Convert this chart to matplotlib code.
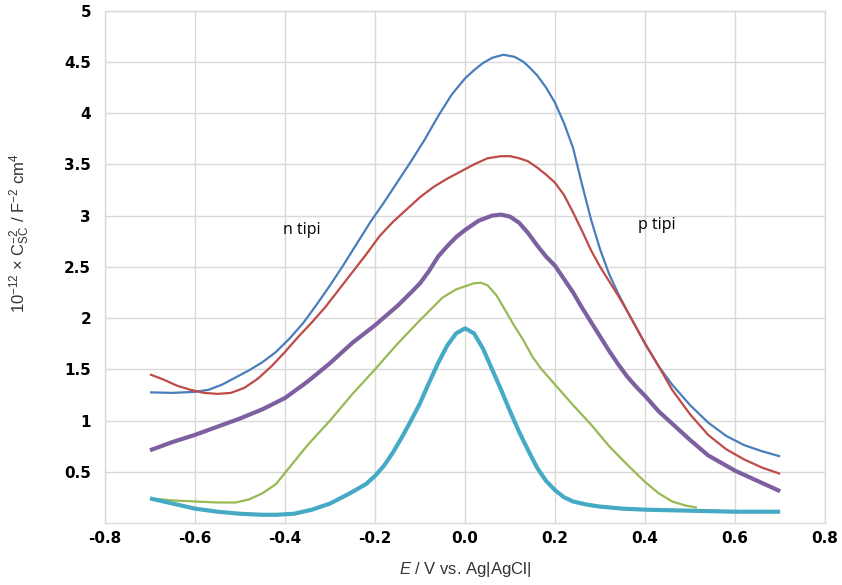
import numpy as np
import matplotlib
matplotlib.use("Agg")
import matplotlib.pyplot as plt

plt.rcParams['font.family'] = ['Liberation Sans', 'DejaVu Sans']
plt.rcParams['mathtext.fontset'] = 'custom'
plt.rcParams['mathtext.rm'] = 'Liberation Sans'
plt.rcParams['mathtext.it'] = 'Liberation Sans:italic'

# Mott-Schottky curves
blue_x = [-0.70, -0.65, -0.60, -0.57, -0.54, -0.51, -0.48, -0.45, -0.42, -0.39, -0.36, -0.33, -0.30, -0.27,
          -0.24, -0.21, -0.18, -0.15, -0.12, -0.09, -0.06, -0.03, 0.00, 0.02, 0.04, 0.06, 0.085, 0.11, 0.13,
          0.14, 0.16, 0.18, 0.20, 0.22, 0.24, 0.26, 0.28, 0.30, 0.32, 0.34, 0.36, 0.38, 0.40, 0.43, 0.46,
          0.50, 0.54, 0.58, 0.62, 0.66, 0.70]
blue_y = [1.275, 1.27, 1.28, 1.30, 1.35, 1.42, 1.49, 1.57, 1.67, 1.80, 1.95, 2.13, 2.32, 2.52,
          2.73, 2.94, 3.13, 3.33, 3.53, 3.74, 3.97, 4.18, 4.34, 4.42, 4.49, 4.54, 4.57, 4.55, 4.50,
          4.46, 4.37, 4.25, 4.10, 3.90, 3.66, 3.30, 2.96, 2.67, 2.43, 2.24, 2.07, 1.91, 1.75, 1.53, 1.35,
          1.15, 0.98, 0.85, 0.76, 0.70, 0.65]

red_x = [-0.70, -0.67, -0.64, -0.61, -0.58, -0.55, -0.52, -0.49, -0.46, -0.43, -0.40, -0.37, -0.34, -0.31,
         -0.28, -0.25, -0.22, -0.19, -0.16, -0.13, -0.10, -0.07, -0.04, -0.01, 0.02, 0.05, 0.08, 0.10, 0.12,
         0.14, 0.16, 0.18, 0.20, 0.22, 0.24, 0.26, 0.28, 0.30, 0.32, 0.34, 0.36, 0.38, 0.40, 0.43, 0.46,
         0.50, 0.54, 0.58, 0.62, 0.66, 0.70]
red_y = [1.45, 1.40, 1.34, 1.30, 1.27, 1.26, 1.27, 1.32, 1.41, 1.53, 1.67, 1.82, 1.96, 2.11,
         2.28, 2.45, 2.62, 2.80, 2.94, 3.06, 3.18, 3.28, 3.36, 3.43, 3.50, 3.56, 3.58, 3.58, 3.56,
         3.53, 3.47, 3.40, 3.32, 3.20, 3.03, 2.85, 2.66, 2.50, 2.36, 2.22, 2.07, 1.91, 1.75, 1.53, 1.30,
         1.06, 0.86, 0.72, 0.62, 0.54, 0.48]

purple_x = [-0.70, -0.65, -0.60, -0.55, -0.50, -0.45, -0.40, -0.35, -0.30, -0.25, -0.20, -0.15, -0.12,
            -0.10, -0.08, -0.06, -0.04, -0.02, 0.00, 0.03, 0.06, 0.08, 0.10, 0.12, 0.14, 0.16, 0.18, 0.20,
            0.22, 0.24, 0.26, 0.28, 0.30, 0.32, 0.34, 0.36, 0.38, 0.40, 0.43, 0.46, 0.50, 0.54, 0.60,
            0.65, 0.70]
purple_y = [0.71, 0.79, 0.86, 0.94, 1.02, 1.11, 1.22, 1.38, 1.56, 1.76, 1.93, 2.12, 2.25,
            2.34, 2.46, 2.60, 2.70, 2.79, 2.86, 2.95, 3.00, 3.01, 2.99, 2.93, 2.83, 2.71, 2.60, 2.51,
            2.38, 2.25, 2.10, 1.96, 1.82, 1.68, 1.55, 1.43, 1.33, 1.24, 1.09, 0.97, 0.81, 0.66, 0.51,
            0.41, 0.31]

green_x = [-0.70, -0.65, -0.60, -0.55, -0.51, -0.48, -0.45, -0.42, -0.40, -0.35, -0.30, -0.25, -0.20,
           -0.15, -0.10, -0.05, -0.02, 0.00, 0.02, 0.035, 0.05, 0.07, 0.09, 0.11, 0.13, 0.15, 0.17, 0.20,
           0.24, 0.28, 0.32, 0.36, 0.40, 0.43, 0.46, 0.49, 0.515]
green_y = [0.24, 0.22, 0.21, 0.20, 0.20, 0.23, 0.29, 0.38, 0.49, 0.76, 1.00, 1.26, 1.50,
           1.75, 1.98, 2.20, 2.28, 2.31, 2.34, 2.345, 2.32, 2.22, 2.07, 1.92, 1.78, 1.62, 1.50, 1.35,
           1.15, 0.96, 0.75, 0.57, 0.40, 0.29, 0.21, 0.17, 0.15]

cyan_x = [-0.70, -0.65, -0.60, -0.55, -0.50, -0.45, -0.42, -0.38, -0.34, -0.30, -0.26, -0.22, -0.20,
          -0.18, -0.16, -0.14, -0.12, -0.10, -0.08, -0.06, -0.04, -0.02, 0.00, 0.02, 0.04, 0.06, 0.08,
          0.10, 0.12, 0.14, 0.16, 0.18, 0.20, 0.22, 0.24, 0.27, 0.30, 0.35, 0.40, 0.50, 0.60, 0.70]
cyan_y = [0.24, 0.19, 0.14, 0.11, 0.09, 0.08, 0.08, 0.09, 0.13, 0.19, 0.28, 0.38, 0.46,
          0.56, 0.69, 0.84, 1.00, 1.17, 1.37, 1.56, 1.73, 1.85, 1.90, 1.85, 1.70, 1.50, 1.30,
          1.09, 0.89, 0.71, 0.54, 0.41, 0.32, 0.25, 0.21, 0.18, 0.16, 0.14, 0.13, 0.12, 0.11, 0.11]

xticks = [-0.8, -0.6, -0.4, -0.2, 0.0, 0.2, 0.4, 0.6, 0.8]
yticks = [0.5, 1, 1.5, 2, 2.5, 3, 3.5, 4, 4.5, 5]

fig = plt.figure(figsize=(8.42, 5.85), dpi=100)
ax = fig.add_axes([0.1247, 0.106, 0.8553, 0.8757])

kw = dict(solid_joinstyle='round', solid_capstyle='butt')
ax.plot(blue_x, blue_y, color='#4a7ebb', lw=1.6, **kw)
ax.plot(red_x, red_y, color='#be4b48', lw=1.6, **kw)
ax.plot(purple_x, purple_y, color='#7d60a0', lw=3.0, **kw)
ax.plot(green_x, green_y, color='#98b954', lw=1.6, **kw)
ax.plot(cyan_x, cyan_y, color='#46aac5', lw=3.0, **kw)

ax.text(-0.404, 2.86, 'n tipi', fontsize=11.5, va='center', ha='left', family=['Open Sans', 'DejaVu Sans'])
ax.text(0.384, 2.91, 'p tipi', fontsize=11.5, va='center', ha='left', family=['Open Sans', 'DejaVu Sans'])

ax.set_xlim(-0.8, 0.8)
ax.set_ylim(0, 5)
ax.set_xticks(xticks)
ax.set_xticklabels(['%.1f' % v for v in xticks])
ax.set_yticks(yticks)
ax.set_yticklabels(['%g' % v for v in yticks])
ax.tick_params(length=0)
ax.tick_params(axis='y', pad=10)
ax.tick_params(axis='x', pad=6)
for lbl in ax.get_xticklabels() + ax.get_yticklabels():
    lbl.set_fontweight('bold')
    lbl.set_fontfamily('DejaVu Sans')
    lbl.set_fontsize(11)

ax.grid(True, color='#d9d9d9', lw=1.0)
ax.set_axisbelow(True)
for s in ax.spines.values():
    s.set_color('#d9d9d9')
    s.set_linewidth(1.0)

ax.set_xlabel(r'$\mathit{E}$ / V vs. Ag|AgCl|', fontsize=12, color='#333333')
ax.xaxis.set_label_coords(0.5, -0.072)
ax.set_ylabel(r'10$^{-12}$ × C$_{\rm SC}^{-2}$ / F$^{-2}$ cm$^{4}$', fontsize=12, color='#333333')
ax.yaxis.set_label_coords(-0.102, 0.566)

fig.savefig('out.png', dpi=100)
